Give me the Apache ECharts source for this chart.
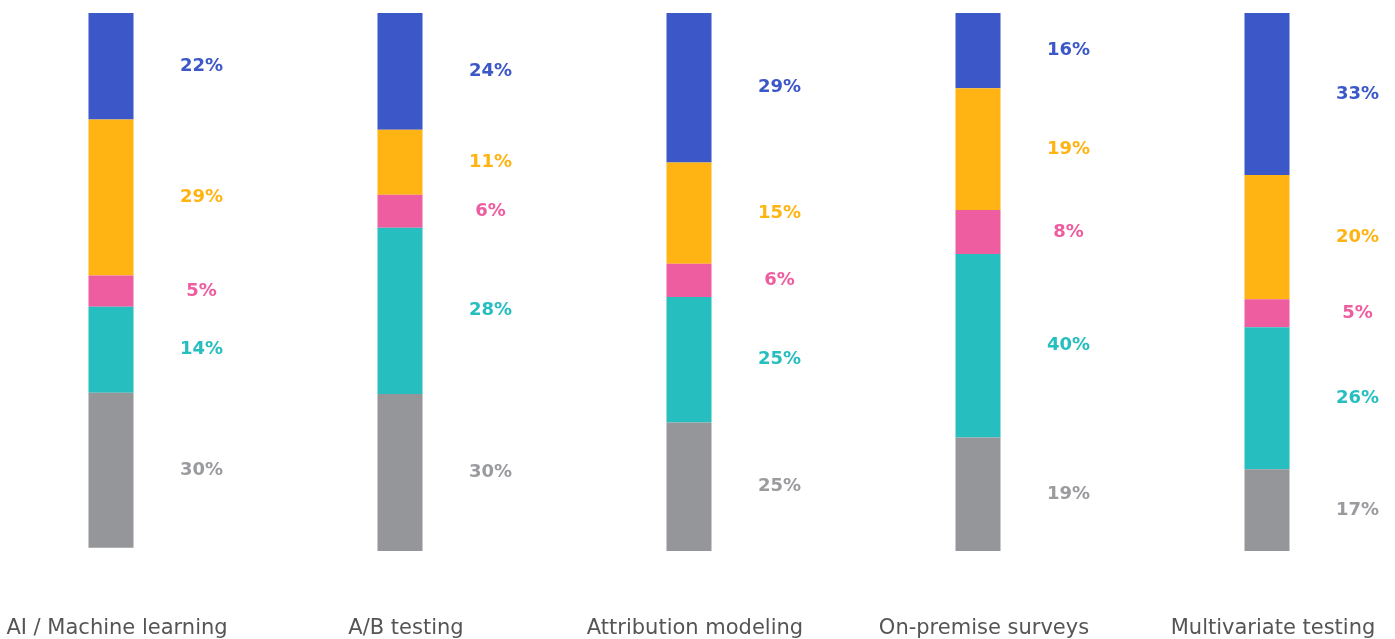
<!DOCTYPE html>
<html>
<head>
<meta charset="utf-8">
<script src="https://cdn.jsdelivr.net/npm/echarts@6/dist/echarts.min.js"></script>
<style>
  html, body { margin: 0; padding: 0; background: #fff; }
  #chart { width: 1395px; height: 639px; }
</style>
</head>
<body>
<div id="chart"></div>
<script>
// categories along the x axis
const categories = [
  "AI / Machine learning",
  "A/B testing",
  "Attribution modeling",
  "On-premise surveys",
  "Multivariate testing",
];

// segment heights as drawn (top to bottom)
const blueVals = [19.8, 21.7, 27.8, 14.0, 30.1];
const yellowVals = [29.0, 12.1, 18.8, 22.6, 23.1];
const pinkVals = [5.8, 6.1, 6.2, 8.2, 5.2];
const tealVals = [16.0, 30.9, 23.3, 34.1, 26.4];
const grayVals = [28.8, 29.3, 24.0, 21.5, 15.2];

// printed percentages next to each segment
const blueText = ["22%", "24%", "29%", "16%", "33%"];
const yellowText = ["29%", "11%", "15%", "19%", "20%"];
const pinkText = ["5%", "6%", "6%", "8%", "5%"];
const tealText = ["14%", "28%", "25%", "40%", "26%"];
const grayText = ["30%", "30%", "25%", "19%", "17%"];

const layers = [
  { name: "blue", vals: blueVals, text: blueText, color: "#3b57c8", labelColor: "#3b57c8" },
  { name: "yellow", vals: yellowVals, text: yellowText, color: "#ffb414", labelColor: "#ffb414" },
  { name: "pink", vals: pinkVals, text: pinkText, color: "#ee5d9f", labelColor: "#ee5d9f" },
  { name: "teal", vals: tealVals, text: tealText, color: "#27bebf", labelColor: "#27bebf" },
  { name: "gray", vals: grayVals, text: grayText, color: "#959699", labelColor: "#9a9b9e" },
];

const chart = echarts.init(document.getElementById("chart"));

const option = {
  animation: false,
  grid: {
    left: 111,
    right: 128,
    top: 13,
    height: 538,
  },
  xAxis: {
    type: "category",
    data: categories,
    boundaryGap: false,
    axisLine: { show: false },
    axisTick: { show: false },
    axisLabel: {
      margin: 67,
      fontFamily: "DejaVu Sans",
      fontSize: 21,
      color: "#555",
      padding: [0, 0, 0, 12],
    },
  },
  yAxis: {
    type: "value",
    min: 0,
    max: 100,
    inverse: true,
    show: false,
    splitLine: { show: false },
  },
  series: layers.map((l) => ({
    name: l.name,
    type: "bar",
    stack: "all",
    barWidth: 45,
    data: l.vals,
    itemStyle: { color: l.color },
    label: {
      show: true,
      position: "right",
      distance: 68,
      align: "center",
      fontFamily: "DejaVu Sans",
      fontWeight: 700,
      fontSize: 18,
      color: l.labelColor,
      formatter: (p) => l.text[p.dataIndex],
    },
  })),
};

chart.setOption(option);
</script>
</body>
</html>
